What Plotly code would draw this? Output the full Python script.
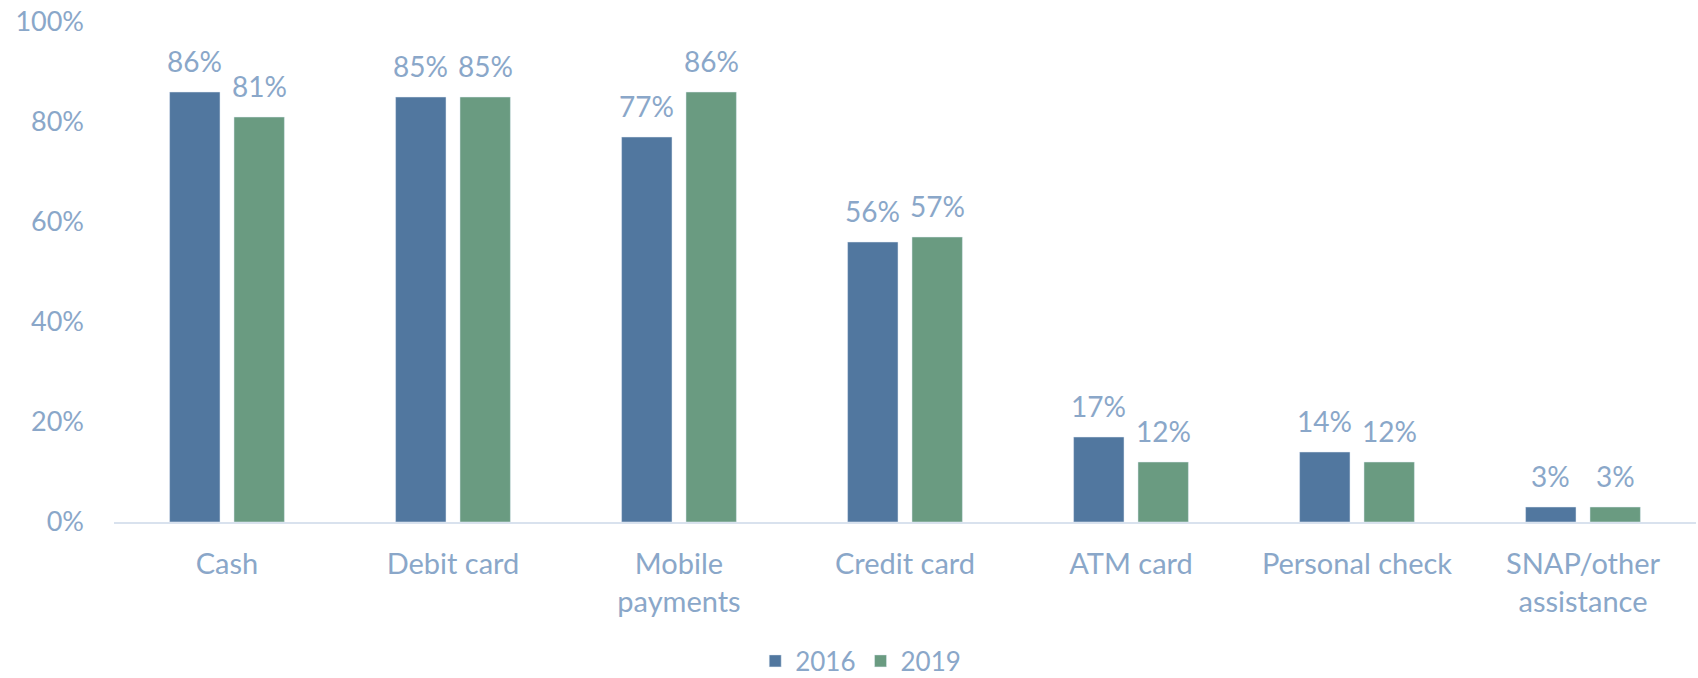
import plotly.graph_objects as go

categories = ["Cash", "Debit card", "Mobile<br>payments", "Credit card", "ATM card", "Personal check", "SNAP/other<br>assistance"]
values_2016 = [86, 85, 77, 56, 17, 14, 3]
values_2019 = [81, 85, 86, 57, 12, 12, 3]
y_ticks = [0, 20, 40, 60, 80, 100]
y_tick_labels = ["0%", "20%", "40%", "60%", "80%", "100%"]

text_color = "#8AA7C9"
font_family = "Lato, 'Open Sans', sans-serif"
font_size = 27
label_size = 28

bargap = 0.43
bargroupgap = 0.217
plot_w = 1698 - 114 - 2
slot_px = plot_w / len(categories) * (1 - bargap) / 2

fig = go.Figure()
fig.add_trace(go.Bar(name="2016", x=categories, y=values_2016, marker=dict(color="#51779F")))
fig.add_trace(go.Bar(name="2019", x=categories, y=values_2019, marker=dict(color="#6A9B81")))

annotations = []
for series, shift in ((values_2016, -slot_px / 2), (values_2019, slot_px / 2)):
    for cat, v in zip(categories, series):
        annotations.append(dict(
            x=cat, y=v, xref="x", yref="y", text=f"{v}%", showarrow=False,
            xanchor="center", yanchor="bottom", xshift=shift, yshift=12,
            font=dict(size=label_size, color=text_color, family=font_family),
        ))

fig.update_layout(
    width=1698, height=678,
    margin=dict(l=114, r=2, t=22, b=156, autoexpand=False),
    paper_bgcolor="white", plot_bgcolor="white",
    barmode="group", bargap=bargap, bargroupgap=bargroupgap,
    font=dict(family=font_family, size=font_size, color=text_color),
    legend=dict(orientation="h", x=0.472, xanchor="center", y=-0.278, yanchor="middle",
                font=dict(size=26, color=text_color), itemwidth=30),
    annotations=annotations,
)
fig.update_xaxes(showline=True, linecolor="#D9E2EE", linewidth=2, showgrid=False,
                 ticks="", ticklabelstandoff=15, tickfont=dict(size=29, color=text_color))
fig.update_yaxes(range=[0, 100], tickvals=y_ticks, ticktext=y_tick_labels, showgrid=False,
                 zeroline=False, showline=False, ticklabelstandoff=29,
                 tickfont=dict(size=font_size, color=text_color))

fig.write_html("out.html", config={"displayModeBar": False},
               post_script="document.body.style.margin='0';document.body.style.overflow='hidden';")
